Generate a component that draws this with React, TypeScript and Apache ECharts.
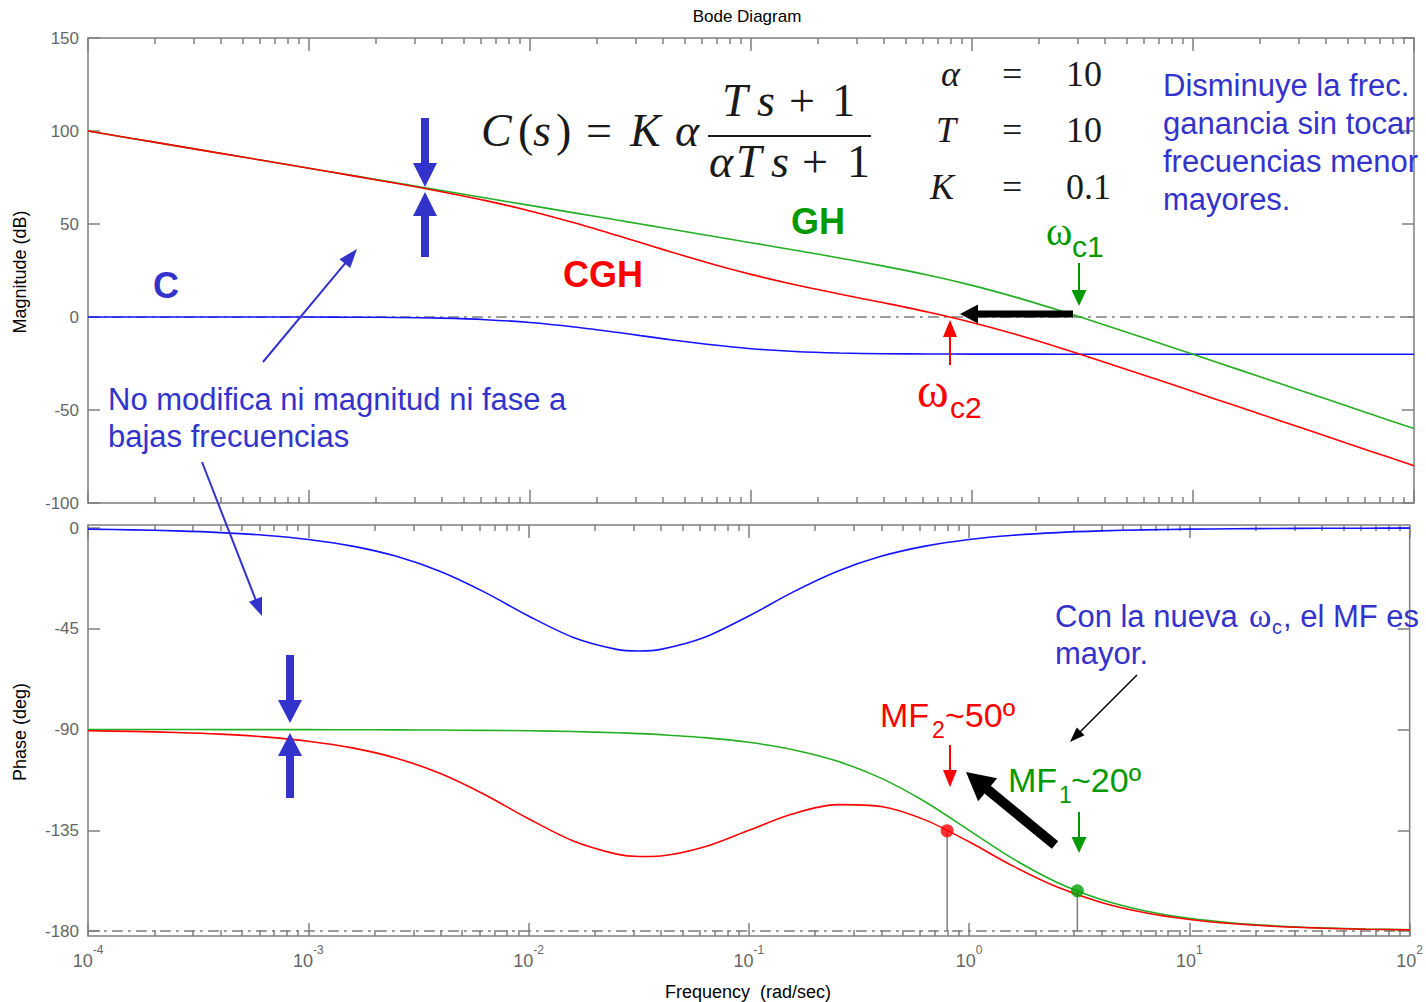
import React, { useEffect, useRef } from "react";
import * as echarts from "echarts";

// Frequencies (rad/s), ~0.2-decade steps from 1e-4 to 1e2
const freq = [
  1e-4, 1.585e-4, 2.512e-4, 3.981e-4, 6.31e-4,
  1e-3, 1.585e-3, 2.512e-3, 3.981e-3, 6.31e-3,
  1e-2, 1.585e-2, 2.512e-2, 3.162e-2, 3.981e-2, 6.31e-2,
  0.1, 0.1585, 0.2512, 0.3981, 0.631,
  1, 1.585, 2.512, 3.981, 6.31,
  10, 15.85, 25.12, 39.81, 63.1, 100,
];

// Magnitude (dB)
const magC = [
  0, 0, 0, -0.01, -0.02, -0.04, -0.11, -0.26, -0.63, -1.44,
  -2.97, -5.35, -8.37, -10.0, -11.63, -14.65, -17.03, -18.56, -19.37, -19.74, -19.89,
  -19.96, -19.98, -19.99, -20, -20, -20, -20, -20, -20, -20, -20,
];
const magGH = [
  100, 96, 92, 88, 84, 80, 76, 72, 68, 64,
  60, 56, 52, 50.0, 47.99, 43.98, 39.96, 35.89, 31.73, 27.36, 22.55,
  16.99, 10.55, 3.36, -4.27, -12.11, -20.04, -28.02, -36.01, -44, -52, -60,
];
const magCGH = [
  100, 96, 92, 87.99, 83.98, 79.96, 75.89, 71.74, 67.37, 62.56,
  57.03, 50.65, 43.63, 40.0, 36.36, 29.33, 22.93, 17.33, 12.36, 7.62, 2.66,
  -2.97, -9.43, -16.63, -24.27, -32.11, -40.04, -48.02, -56.01, -64, -72, -80,
];

// Phase (deg)
const phC = [
  -0.52, -0.82, -1.3, -2.05, -3.25, -5.14, -8.1, -12.66, -19.43, -28.64,
  -39.29, -48.74, -54.19, -54.9, -54.19, -48.75, -39.29, -28.64, -19.43, -12.66, -8.09,
  -5.14, -3.25, -2.05, -1.3, -0.82, -0.52, -0.33, -0.21, -0.13, -0.08, -0.05,
];
const phGH = [
  -90.01, -90.01, -90.01, -90.02, -90.04, -90.06, -90.09, -90.14, -90.23, -90.36,
  -90.57, -90.91, -91.44, -91.81, -92.28, -93.61, -95.71, -99.0, -104.1, -111.7, -122.25,
  -135, -147.75, -158.29, -165.9, -171.0, -174.29, -176.39, -177.72, -178.56, -179.09, -179.43,
];
const phCGH = [
  -90.53, -90.83, -91.31, -92.07, -93.29, -95.2, -98.19, -102.8, -109.66, -119.0,
  -129.86, -139.65, -145.63, -146.71, -146.47, -142.36, -135.0, -127.64, -123.53, -124.36, -130.34,
  -140.14, -151.0, -160.34, -167.2, -171.82, -174.81, -176.72, -177.93, -178.69, -179.17, -179.48,
];

// Crossover points: [omega_c2 (CGH), omega_c1 (GH)]
const wcFreq = [0.795, 3.1];
const wcPhase = [-135.2, -162.0];

// Axis ticks
const decadeExps = [-4, -3, -2, -1, 0, 1, 2];
const phaseTicks = [-180, -135, -90, -45, 0];

const SANS = "'Liberation Sans', Arial, Helvetica, sans-serif";
const SERIF = "'Liberation Serif', 'DejaVu Serif', 'Times New Roman', serif";
const BLUE_TXT = "#3333cc";
const GREEN_TXT = "#009900";
const RED = "#ff0000";
const LINE_BLUE = "#1414ff";
const LINE_GREEN = "#22b022";
const GRAY = "#7f7f7f";
const LABEL_GRAY = "#666666";
const INK = "#1a1a1a";

const minorExps: number[] = [];
for (let d = -4; d < 2; d++) {
  for (let k = 2; k <= 9; k++) minorExps.push(d + Math.log10(k));
}

type TOpts = {
  family?: string;
  weight?: string;
  italic?: boolean;
  align?: string;
};

function txt(text: string, x: number, baseline: number, size: number, color: string, o: TOpts = {}) {
  return {
    type: "text",
    x,
    y: baseline - 0.35 * size,
    z: 60,
    style: {
      text,
      fill: color,
      fontSize: size,
      fontFamily: o.family || SANS,
      fontWeight: o.weight || "normal",
      fontStyle: o.italic ? "italic" : "normal",
      align: o.align || "left",
      verticalAlign: "middle",
    },
  };
}

function vtxt(text: string, cx: number, cy: number, size: number) {
  return {
    type: "text",
    x: cx,
    y: cy,
    z: 60,
    rotation: Math.PI / 2,
    style: {
      text,
      fill: "#000",
      fontSize: size,
      fontFamily: SANS,
      align: "center",
      verticalAlign: "middle",
    },
  };
}

function arrow(x1: number, y1: number, x2: number, y2: number, w: number, hl: number, hw: number, color: string) {
  const dx = x2 - x1;
  const dy = y2 - y1;
  const L = Math.hypot(dx, dy);
  const ux = dx / L;
  const uy = dy / L;
  const px = -uy;
  const py = ux;
  const bx = x2 - ux * hl;
  const by = y2 - uy * hl;
  return [
    {
      type: "line",
      z: 55,
      shape: { x1, y1, x2: bx + ux * 2, y2: by + uy * 2 },
      style: { stroke: color, lineWidth: w, lineCap: "butt" },
    },
    {
      type: "polygon",
      z: 56,
      shape: {
        points: [
          [x2, y2],
          [bx + (px * hw) / 2, by + (py * hw) / 2],
          [bx - (px * hw) / 2, by - (py * hw) / 2],
        ],
      },
      style: { fill: color },
    },
  ];
}

function pairs(vals: number[]) {
  return freq.map((f, i) => [f, vals[i]]);
}

function tickAxis(gridIndex: number, position: string, values: number[], length: number, labels = false) {
  return {
    type: "value",
    gridIndex,
    position,
    min: -4,
    max: 2,
    axisLine: { show: false, onZero: false },
    splitLine: { show: false },
    axisTick: {
      show: true,
      inside: true,
      length,
      customValues: values,
      lineStyle: { color: GRAY, width: 1.5 },
    },
    axisLabel: labels
      ? {
          show: true,
          customValues: decadeExps,
          margin: 8,
          formatter: (v: number) => `{b|10}{s|${v}}`,
          rich: {
            b: { fontSize: 18, fontFamily: SANS, color: LABEL_GRAY, lineHeight: 26, verticalAlign: "bottom" },
            s: { fontSize: 12, fontFamily: SANS, color: LABEL_GRAY, lineHeight: 14, verticalAlign: "top" },
          },
        }
      : { show: false },
  };
}

function lineSeries(name: string, x: number, y: number, vals: number[], color: string, extra: any = {}) {
  return {
    name,
    type: "line",
    xAxisIndex: x,
    yAxisIndex: y,
    data: pairs(vals),
    showSymbol: false,
    smooth: 0.3,
    z: 3,
    lineStyle: { color, width: 1.6 },
    itemStyle: { color },
    ...extra,
  };
}

const dashDot = (value: number) => ({
  silent: true,
  symbol: "none",
  z: 1,
  label: { show: false },
  lineStyle: { color: GRAY, width: 1.5, type: [11, 5, 3, 5] },
  data: [{ yAxis: value }],
});

export default function App() {
  const ref = useRef<HTMLDivElement>(null);

  useEffect(() => {
    if (!ref.current) return;
    const chart = echarts.init(ref.current, undefined, { renderer: "svg" });

    const graphics: any[] = [
      txt("Bode Diagram", 747, 22, 17, "#000", { align: "center" }),
      txt("Frequency  (rad/sec)", 748, 998, 18, "#000", { align: "center" }),
      vtxt("Magnitude (dB)", 20, 272, 18),
      vtxt("Phase (deg)", 20, 732, 18),

      // Formula C(s) = K alpha (Ts+1)/(alpha T s + 1)
      txt("C", 481, 147, 46, INK, { family: SERIF, italic: true }),
      txt("(", 518, 147, 46, INK, { family: SERIF }),
      txt("s", 533, 147, 46, INK, { family: SERIF, italic: true }),
      txt(")", 556, 147, 46, INK, { family: SERIF }),
      txt("=", 586, 147, 46, INK, { family: SERIF }),
      txt("K", 630, 147, 46, INK, { family: SERIF, italic: true }),
      txt("α", 675, 147, 46, INK, { family: SERIF, italic: true }),
      txt("T", 722, 117, 46, INK, { family: SERIF, italic: true }),
      txt("s", 757, 117, 46, INK, { family: SERIF, italic: true }),
      txt("+", 789, 117, 46, INK, { family: SERIF }),
      txt("1", 832, 117, 46, INK, { family: SERIF }),
      txt("α", 709, 178, 46, INK, { family: SERIF, italic: true }),
      txt("T", 736, 178, 46, INK, { family: SERIF, italic: true }),
      txt("s", 771, 178, 46, INK, { family: SERIF, italic: true }),
      txt("+", 802, 178, 46, INK, { family: SERIF }),
      txt("1", 847, 178, 46, INK, { family: SERIF }),
      { type: "line", z: 60, shape: { x1: 708, y1: 136, x2: 871, y2: 136 }, style: { stroke: INK, lineWidth: 2 } },

      // Parameters
      txt("α", 941, 87, 36, INK, { family: SERIF, italic: true }),
      txt("=", 1002, 87, 36, INK, { family: SERIF }),
      txt("10", 1066, 87, 36, INK, { family: SERIF }),
      txt("T", 936, 143, 36, INK, { family: SERIF, italic: true }),
      txt("=", 1002, 143, 36, INK, { family: SERIF }),
      txt("10", 1066, 143, 36, INK, { family: SERIF }),
      txt("K", 930, 200, 36, INK, { family: SERIF, italic: true }),
      txt("=", 1002, 200, 36, INK, { family: SERIF }),
      txt("0.1", 1066, 200, 36, INK, { family: SERIF }),

      // Curve labels
      txt("C", 153, 298, 36, BLUE_TXT, { weight: "bold" }),
      txt("CGH", 563, 287, 36, RED, { weight: "bold" }),
      txt("GH", 791, 234, 36, GREEN_TXT, { weight: "bold" }),

      // Notes
      txt("No modifica ni magnitud ni fase a", 108, 410, 31, BLUE_TXT),
      txt("bajas frecuencias", 108, 447, 31, BLUE_TXT),
      txt("Disminuye la frec.", 1163, 96, 31, BLUE_TXT),
      txt("ganancia sin tocar", 1163, 134, 31, BLUE_TXT),
      txt("frecuencias menor", 1163, 172, 31, BLUE_TXT),
      txt("mayores.", 1163, 210, 31, BLUE_TXT),
      txt("Con la nueva", 1055, 627, 31, BLUE_TXT),
      txt("ω", 1249, 627, 34, BLUE_TXT, { family: SERIF }),
      txt("c", 1272, 634, 20, BLUE_TXT),
      txt(", el MF es", 1283, 627, 31, BLUE_TXT),
      txt("mayor.", 1055, 664, 31, BLUE_TXT),

      // omega labels
      txt("ω", 1046, 245, 40, GREEN_TXT, { family: SERIF }),
      txt("c1", 1072, 257, 30, GREEN_TXT),
      txt("ω", 917, 407, 48, RED, { family: SERIF }),
      txt("c2", 950, 418, 30, RED),

      // Margin labels
      txt("MF", 880, 727, 34, RED),
      txt("2", 932, 738, 23, RED),
      txt("~50º", 945, 727, 34, RED),
      txt("MF", 1008, 792, 34, GREEN_TXT),
      txt("1", 1059, 803, 23, GREEN_TXT),
      txt("~20º", 1071, 792, 34, GREEN_TXT),

      // Arrows
      ...arrow(425, 118, 425, 187, 8, 24, 24, BLUE_TXT),
      ...arrow(425, 257, 425, 192, 8, 24, 24, BLUE_TXT),
      ...arrow(290, 655, 290, 723, 8, 23, 24, BLUE_TXT),
      ...arrow(290, 798, 290, 733, 8, 23, 24, BLUE_TXT),
      ...arrow(263, 362, 357, 249, 2, 19, 14, BLUE_TXT),
      ...arrow(202, 462, 262, 616, 2, 18, 14, BLUE_TXT),
      ...arrow(950, 365, 950, 320, 2, 17, 14, RED),
      ...arrow(950, 745, 950, 787, 2, 17, 14, RED),
      ...arrow(1079, 263, 1079, 306, 2, 16, 15, GREEN_TXT),
      ...arrow(1079, 812, 1079, 853, 2, 16, 15, GREEN_TXT),
      ...arrow(1073, 314, 960, 314, 7, 18, 19, "#000"),
      ...arrow(1055, 845, 966, 772, 10, 28, 30, "#000"),
      ...arrow(1137, 675, 1070, 742, 1.5, 15, 11, "#000"),
    ];

    const option: any = {
      animation: false,
      backgroundColor: "#ffffff",
      grid: [
        { left: 88, top: 38, width: 1326, height: 465, show: true, borderColor: GRAY, borderWidth: 1.5, backgroundColor: "transparent" },
        { left: 88, top: 525, width: 1326, height: 411, show: true, borderColor: GRAY, borderWidth: 1.5, backgroundColor: "transparent" },
      ],
      xAxis: [
        { type: "log", logBase: 10, gridIndex: 0, min: 1e-4, max: 100, show: false },
        { type: "log", logBase: 10, gridIndex: 1, min: 1e-4, max: 100, show: false },
        tickAxis(0, "bottom", decadeExps, 13),
        tickAxis(0, "bottom", minorExps, 6),
        tickAxis(0, "top", decadeExps, 13),
        tickAxis(0, "top", minorExps, 6),
        tickAxis(1, "bottom", decadeExps, 13, true),
        tickAxis(1, "bottom", minorExps, 6),
        tickAxis(1, "top", decadeExps, 13),
        tickAxis(1, "top", minorExps, 6),
      ],
      yAxis: [
        {
          type: "value",
          gridIndex: 0,
          position: "left",
          min: -100,
          max: 150,
          interval: 50,
          axisLine: { show: false, onZero: false },
          splitLine: { show: false },
          axisTick: { show: true, inside: true, length: 12, lineStyle: { color: GRAY, width: 1.5 } },
          axisLabel: { show: true, margin: 9, fontSize: 17, fontFamily: SANS, color: LABEL_GRAY },
        },
        {
          type: "value",
          gridIndex: 0,
          position: "right",
          min: -100,
          max: 150,
          interval: 50,
          axisLine: { show: false, onZero: false },
          splitLine: { show: false },
          axisTick: { show: true, inside: true, length: 12, lineStyle: { color: GRAY, width: 1.5 } },
          axisLabel: { show: false },
        },
        {
          type: "value",
          gridIndex: 1,
          position: "left",
          min: -182.2,
          max: 1.34,
          axisLine: { show: false, onZero: false },
          splitLine: { show: false },
          axisTick: { show: true, inside: true, length: 12, customValues: phaseTicks, lineStyle: { color: GRAY, width: 1.5 } },
          axisLabel: { show: true, margin: 9, fontSize: 17, fontFamily: SANS, color: LABEL_GRAY, customValues: phaseTicks },
        },
        {
          type: "value",
          gridIndex: 1,
          position: "right",
          min: -182.2,
          max: 1.34,
          axisLine: { show: false, onZero: false },
          splitLine: { show: false },
          axisTick: { show: true, inside: true, length: 12, customValues: phaseTicks, lineStyle: { color: GRAY, width: 1.5 } },
          axisLabel: { show: false },
        },
      ],
      series: [
        lineSeries("C", 0, 0, magC, LINE_BLUE, { markLine: dashDot(0) }),
        lineSeries("GH", 0, 0, magGH, LINE_GREEN),
        lineSeries("CGH", 0, 0, magCGH, RED),
        lineSeries("C phase", 1, 2, phC, LINE_BLUE, { markLine: dashDot(-180) }),
        lineSeries("GH phase", 1, 2, phGH, LINE_GREEN),
        lineSeries("CGH phase", 1, 2, phCGH, RED),
        {
          type: "line",
          xAxisIndex: 1,
          yAxisIndex: 2,
          data: [[wcFreq[0], wcPhase[0]], [wcFreq[0], -180]],
          showSymbol: false,
          z: 2,
          lineStyle: { color: "#808080", width: 1.5 },
        },
        {
          type: "line",
          xAxisIndex: 1,
          yAxisIndex: 2,
          data: [[wcFreq[1], wcPhase[1]], [wcFreq[1], -180]],
          showSymbol: false,
          z: 2,
          lineStyle: { color: "#808080", width: 1.5 },
        },
        {
          type: "scatter",
          xAxisIndex: 1,
          yAxisIndex: 2,
          data: [[wcFreq[0], wcPhase[0]]],
          symbolSize: 13,
          z: 5,
          itemStyle: { color: RED },
        },
        {
          type: "scatter",
          xAxisIndex: 1,
          yAxisIndex: 2,
          data: [[wcFreq[1], wcPhase[1]]],
          symbolSize: 13,
          z: 5,
          itemStyle: { color: "#00a000" },
        },
      ],
      graphic: graphics,
    };

    chart.setOption(option);
    return () => chart.dispose();
  }, []);

  return (
    <div
      ref={ref}
      style={{ position: "absolute", left: 0, top: 0, width: 1426, height: 1002, background: "#fff" }}
    />
  );
}
